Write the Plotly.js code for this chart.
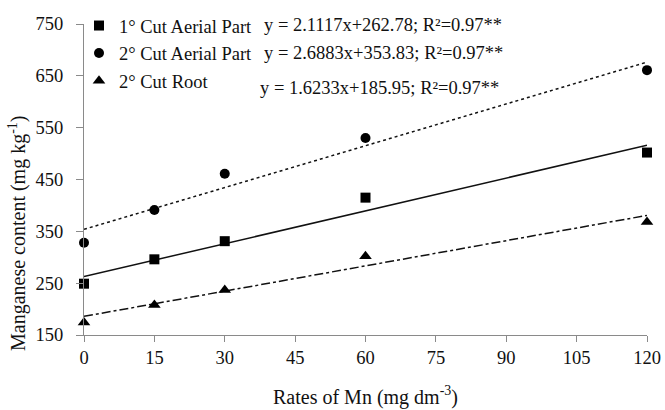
<!DOCTYPE html>
<html>
<head>
<meta charset="utf-8">
<script src="https://cdn.plot.ly/plotly-3.0.1.min.js"></script>
<style>html,body{margin:0;padding:0;background:#fff;}#chart{width:665px;height:410px;}</style>
</head>
<body>
<div id="chart"></div>
<script>
// Data
const rates = [0, 15, 30, 60, 120];
const cut1Aerial = [249, 296, 331, 415, 502];
const cut2Aerial = [328, 391, 461, 530, 661];
const cut2Root = [174, 208, 237, 302, 368];

const seriesNames = ["1° Cut Aerial Part", "2° Cut Aerial Part", "2° Cut Root"];
const slopes = [2.1117, 2.6883, 1.6233];
const intercepts = [262.78, 353.83, 185.95];
const equations = [
  "y = 2.1117x+262.78; R²=0.97**",
  "y = 2.6883x+353.83; R²=0.97**",
  "y = 1.6233x+185.95; R²=0.97**"
];
const xTicks = [0, 15, 30, 45, 60, 75, 90, 105, 120];
const yTicks = [150, 250, 350, 450, 550, 650, 750];

const seriesValues = [cut1Aerial, cut2Aerial, cut2Root];
const symbols = ["square", "circle", "triangle-up"];
const markerSizes = [10, 10, 11];
const dashes = ["solid", "dot", "dashdot"];

const fontFam = "'Liberation Serif', 'Times New Roman', 'DejaVu Serif', serif";
const axisGray = "#8a8a8a";

const traces = [];
const trendX = [rates[0], rates[rates.length - 1]];
for (let i = 0; i < 3; i++) {
  traces.push({
    x: trendX,
    y: trendX.map(v => slopes[i] * v + intercepts[i]),
    mode: "lines",
    line: {color: "#111", width: 1.5, dash: dashes[i]},
    showlegend: false,
    hoverinfo: "skip",
    cliponaxis: false
  });
}
for (let i = 0; i < 3; i++) {
  traces.push({
    x: rates,
    y: seriesValues[i],
    name: seriesNames[i],
    legendgroup: "g" + i,
    mode: "markers",
    marker: {symbol: symbols[i], size: markerSizes[i], color: "#000"},
    cliponaxis: false
  });
}

const eqX = [262, 262, 258];
const eqY = [25, 53, 88];
const plotL = 84, plotR = 647, plotT = 24, plotB = 335;
const pw = plotR - plotL, ph = plotB - plotT;
const annotations = equations.map((t, i) => ({
  text: t,
  xref: "paper", yref: "paper",
  x: (eqX[i] - plotL) / pw,
  y: (plotB - eqY[i]) / ph,
  xanchor: "left", yanchor: "middle",
  showarrow: false,
  font: {family: fontFam, size: 18.5, color: "#111"}
}));
annotations.push({
  text: "Manganese content (mg kg<sup>-1</sup>)",
  xref: "paper", yref: "paper",
  x: (18 - plotL) / pw,
  y: (plotB - 233) / ph,
  xanchor: "center", yanchor: "middle",
  textangle: -90,
  showarrow: false,
  font: {family: fontFam, size: 20, color: "#111"}
});

const layout = {
  width: 665, height: 410,
  margin: {l: plotL, r: 665 - plotR, t: plotT, b: 410 - plotB, autoexpand: false},
  paper_bgcolor: "#fff", plot_bgcolor: "#fff",
  font: {family: fontFam, color: "#111"},
  xaxis: {
    range: [0, 120],
    tickmode: "array", tickvals: xTicks, ticktext: xTicks.map(String),
    showgrid: false, zeroline: false,
    showline: true, linecolor: axisGray, linewidth: 1,
    ticks: "outside", ticklen: 6, tickcolor: axisGray,
    tickfont: {family: fontFam, size: 18.5, color: "#111"},
    title: {text: "Rates of Mn (mg dm<sup>-3</sup>)", font: {family: fontFam, size: 20, color: "#111"}, standoff: 22}
  },
  yaxis: {
    range: [150, 750],
    tickmode: "array", tickvals: yTicks, ticktext: yTicks.map(String),
    showgrid: false, zeroline: false,
    showline: true, linecolor: axisGray, linewidth: 1,
    ticks: "outside", ticklen: 7, tickcolor: axisGray,
    ticklabelstandoff: 9,
    tickfont: {family: fontFam, size: 18.5, color: "#111"}
  },
  showlegend: true,
  legend: {
    x: (79 - plotL) / pw, y: 1 + (plotT - 7) / ph, xanchor: "left", yanchor: "top",
    bgcolor: "rgba(0,0,0,0)", borderwidth: 0,
    traceorder: "grouped", tracegroupgap: 0.5,
    font: {family: fontFam, size: 18.5, color: "#111"}
  },
  annotations: annotations
};

Plotly.newPlot("chart", traces, layout, {displayModeBar: false, staticPlot: true});
</script>
</body>
</html>
